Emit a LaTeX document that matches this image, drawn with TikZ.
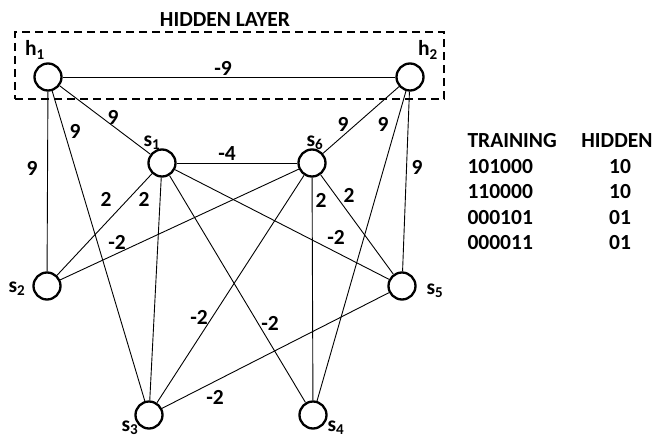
\documentclass[tikz,border=0pt]{standalone}
\usepackage{fontspec}
\setmainfont{Carlito}
\usetikzlibrary{positioning}

\begin{document}
\begin{tikzpicture}[
  x=1pt, y=-1pt,
  every node/.style={font=\fontsize{21.5}{25}\selectfont\bfseries},
  unit/.style={draw, circle, line width=2.3pt, minimum size=27pt, inner sep=0pt},
  link/.style={line width=0.9pt},
  wlabel/.style={inner sep=0pt}
]
  \useasboundingbox (0,0) rectangle (656,439);

  % Hidden layer box
  \node[draw, line width=2.7pt, dash pattern=on 8pt off 5pt,
    minimum width=429pt, minimum height=67pt, inner sep=0pt] (box) at (229.5,65.5) {};
  \node (title) at (225,20) {HIDDEN LAYER};

  % Hidden units
  \node[unit] (h1) at (48,77) {};
  \node[unit] (h2) at (410,77) {};

  % Visible units
  \node[unit] (s1) at (162,163) {};
  \node[unit] (s6) at (312,163) {};
  \node[unit] (s2) at (47,286) {};
  \node[unit] (s5) at (402,286) {};
  \node[unit] (s3) at (149,415) {};
  \node[unit] (s4) at (313,415) {};

  % Unit names
  \node (nh1) at (35,50) {h\textsubscript{1}};
  \node (nh2) at (428,50) {h\textsubscript{2}};
  \node (ns1) at (152,143) {s\textsubscript{1}};
  \node (ns6) at (315,143) {s\textsubscript{6}};
  \node (ns2) at (17,289) {s\textsubscript{2}};
  \node (ns5) at (435,291) {s\textsubscript{5}};
  \node (ns3) at (130,428) {s\textsubscript{3}};
  \node (ns4) at (336,428) {s\textsubscript{4}};

  % Connections
  \draw[link] (h1) -- (h2);
  \draw[link] (h1) -- (s1);
  \draw[link] (h1) -- (s3);
  \draw[link] (h1) -- (s2);
  \draw[link] (h2) -- (s6);
  \draw[link] (h2) -- (s4);
  \draw[link] (h2) -- (s5);
  \draw[link] (s1) -- (s6);
  \draw[link] (s1) -- (s2);
  \draw[link] (s1) -- (s3);
  \draw[link] (s1) -- (s4);
  \draw[link] (s1) -- (s5);
  \draw[link] (s6) -- (s2);
  \draw[link] (s6) -- (s3);
  \draw[link] (s6) -- (s4);
  \draw[link] (s6) -- (s5);
  \draw[link] (s3) -- (s5);

  % Weights
  \node[wlabel] (w1) at (223,68) {-9};
  \node[wlabel] (w2) at (113,117) {9};
  \node[wlabel] (w3) at (75,131) {9};
  \node[wlabel] (w4) at (32,168) {9};
  \node[wlabel] (w5) at (343,124) {9};
  \node[wlabel] (w6) at (383,124) {9};
  \node[wlabel] (w7) at (417,167) {9};
  \node[wlabel] (w8) at (227,154) {-4};
  \node[wlabel] (w9) at (106,199) {2};
  \node[wlabel] (w10) at (144,199) {2};
  \node[wlabel] (w11) at (321,200) {2};
  \node[wlabel] (w12) at (349,195) {2};
  \node[wlabel] (w13) at (117,242) {-2};
  \node[wlabel] (w14) at (336,237) {-2};
  \node[wlabel] (w15) at (199,317) {-2};
  \node[wlabel] (w16) at (270,323) {-2};
  \node[wlabel] (w17) at (215,397) {-2};

  % Training table
  \node[anchor=west] (train) at (464,141) {TRAINING};
  \node[anchor=east] (hidden) at (656,141) {HIDDEN};
  \foreach \pat/\code [count=\i] in {101000/10, 110000/10, 000101/01, 000011/01} {
    \node[anchor=west] (t\i) at (464,{141+25.5*\i}) {\pat};
    \node (c\i) at (620,{141+25.5*\i}) {\code};
  }
\end{tikzpicture}
\end{document}
